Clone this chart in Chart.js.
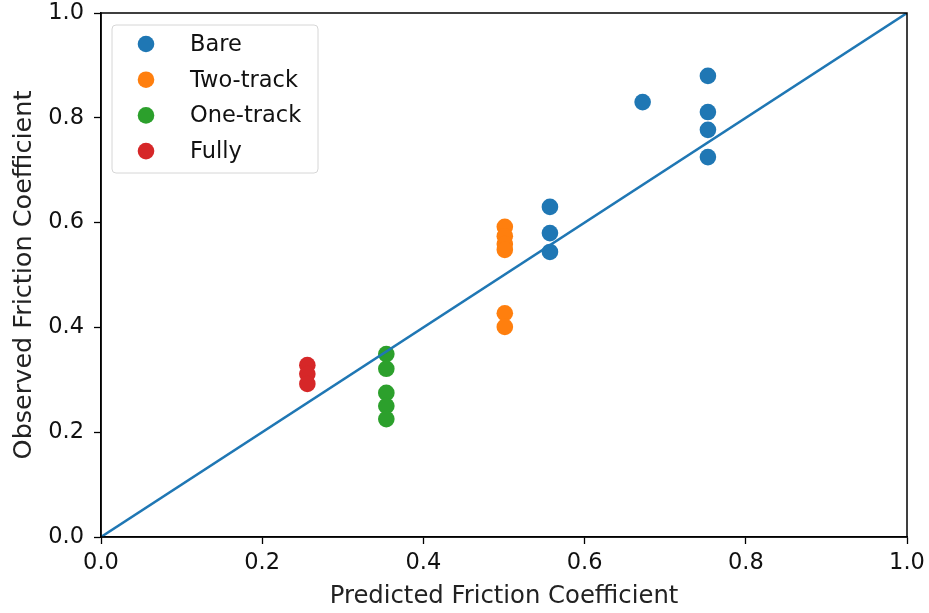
<!DOCTYPE html>
<html>
<head>
<meta charset="utf-8">
<script src="https://cdn.jsdelivr.net/npm/chart.js@4.4.1/dist/chart.umd.min.js"></script>
<style>
  html, body { margin: 0; padding: 0; background: #fff; }
  #wrap { width: 929px; height: 613px; position: relative; }
</style>
</head>
<body>
<div id="wrap"><canvas id="chart"></canvas></div>
<script>
// Observed vs predicted friction coefficient, per surface condition
const BARE_X = [0.557, 0.557, 0.557, 0.672, 0.753, 0.753, 0.753, 0.753];
const BARE_Y = [0.630, 0.580, 0.544, 0.830, 0.880, 0.811, 0.777, 0.725];

const TWO_TRACK_X = [0.501, 0.501, 0.501, 0.501, 0.501, 0.501];
const TWO_TRACK_Y = [0.592, 0.574, 0.559, 0.548, 0.427, 0.401];

const ONE_TRACK_X = [0.354, 0.354, 0.354, 0.354, 0.354];
const ONE_TRACK_Y = [0.349, 0.321, 0.275, 0.250, 0.225];

const FULLY_X = [0.256, 0.256, 0.256];
const FULLY_Y = [0.328, 0.311, 0.292];

const LINE_X = [0, 1];
const LINE_Y = [0, 1];

const TICKS = [0.0, 0.2, 0.4, 0.6, 0.8, 1.0];

const FONT = "'DejaVu Sans', sans-serif";

const toPoints = (xs, ys) => xs.map((x, i) => ({ x, y: ys[i] }));

const scatter = (label, xs, ys, color) => ({
  type: 'scatter',
  label,
  data: toPoints(xs, ys),
  backgroundColor: color,
  borderColor: color,
  pointRadius: 8.3,
  pointHoverRadius: 8.3,
  borderWidth: 0,
  order: 1,
});

// frame around plot area + legend box in the upper left
const framePlugin = {
  id: 'frame',
  afterDraw(chart) {
    const { ctx, chartArea: a } = chart;
    ctx.save();
    ctx.strokeStyle = '#000';
    ctx.lineWidth = 1.5;
    ctx.strokeRect(a.left, a.top, a.right - a.left, a.bottom - a.top);

    const sets = chart.data.datasets.filter(d => d.type === 'scatter');
    const bx = 112, by = 25, bw = 206, bh = 148;
    ctx.fillStyle = 'rgba(255,255,255,0.8)';
    ctx.strokeStyle = '#d6d6d6';
    ctx.lineWidth = 1;
    ctx.beginPath();
    ctx.roundRect(bx, by, bw, bh, 4);
    ctx.fill();
    ctx.stroke();

    ctx.font = '22.5px ' + FONT;
    ctx.textBaseline = 'middle';
    sets.forEach((d, i) => {
      const cy = 44 + i * 35.7;
      ctx.fillStyle = d.backgroundColor;
      ctx.beginPath();
      ctx.arc(146, cy, 8.3, 0, Math.PI * 2);
      ctx.fill();
      ctx.fillStyle = '#111';
      ctx.fillText(d.label, 190, cy + 1);
    });
    ctx.restore();
  }
};

const axis = (title, titleSize) => ({
  type: 'linear',
  min: 0,
  max: 1,
  afterBuildTicks: s => { s.ticks = TICKS.map(v => ({ value: v })); },
  grid: {
    display: true,
    drawOnChartArea: false,
    drawTicks: true,
    tickLength: 7,
    tickWidth: 1.3,
    tickColor: '#000',
  },
  border: { display: true, color: '#000', width: 1.5 },
  ticks: {
    color: '#111',
    font: { family: FONT, size: 22.5 },
    padding: 8,
    callback: v => v.toFixed(1),
  },
  title: {
    display: true,
    text: title,
    color: '#222',
    font: { family: FONT, size: titleSize },
  },
});

// fixed axis boxes; end labels may hang over the plot edges
const xAxis = axis('Predicted Friction Coefficient', 24.3);
xAxis.afterFit = s => {
  s.height = 613 - 537 - 2;
  s.paddingLeft = 0;
  s.paddingRight = 0;
};
xAxis.ticks.padding = 6;
xAxis.title.padding = { top: 4, bottom: 0 };

const yAxis = axis('Observed Friction Coefficient', 25.5);
yAxis.afterFit = s => {
  s.width = 101 - 4;
  s.paddingTop = 0;
  s.paddingBottom = 0;
};
yAxis.ticks.padding = 10;
yAxis.title.padding = { top: 5, bottom: 4 };

new Chart(document.getElementById('chart'), {
  data: {
    datasets: [
      scatter('Bare', BARE_X, BARE_Y, '#1f77b4'),
      scatter('Two-track', TWO_TRACK_X, TWO_TRACK_Y, '#ff7f0e'),
      scatter('One-track', ONE_TRACK_X, ONE_TRACK_Y, '#2ca02c'),
      scatter('Fully', FULLY_X, FULLY_Y, '#d62728'),
      {
        type: 'line',
        label: 'y = x',
        data: toPoints(LINE_X, LINE_Y),
        borderColor: '#1f77b4',
        borderWidth: 2.5,
        pointRadius: 0,
        fill: false,
        order: 0,
      },
    ],
  },
  options: {
    responsive: true,
    maintainAspectRatio: false,
    animation: false,
    layout: { padding: { left: 4, top: 13, right: 22, bottom: 2 } },
    plugins: {
      legend: { display: false },
      tooltip: { enabled: false },
    },
    scales: { x: xAxis, y: yAxis },
  },
  plugins: [framePlugin],
});
</script>
</body>
</html>
